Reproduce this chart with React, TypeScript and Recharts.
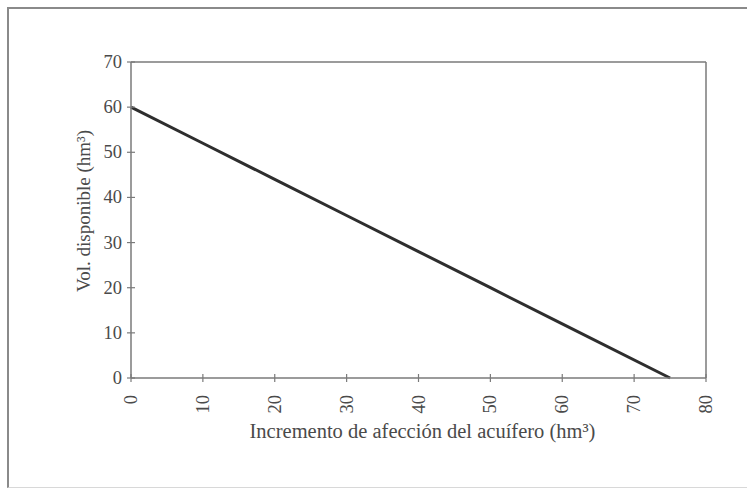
import { LineChart, Line, XAxis, YAxis, ReferenceLine } from 'recharts'

const afeccion = [0, 10, 20, 30, 40, 50, 60, 75]
const volDisponible = [60, 52, 44, 36, 28, 20, 12, 0]
const xTicks = [0, 10, 20, 30, 40, 50, 60, 70, 80]
const yTicks = [0, 10, 20, 30, 40, 50, 60, 70]

const data = afeccion.map((x, i) => ({ x, vol: volDisponible[i] }))

const FONT = '"Liberation Serif", "DejaVu Serif", serif'
const AXIS = '#7a7a7a'
const TEXT = '#4a4a4a'

function YTick(props: any) {
  const { x, y, payload } = props
  const ax = x + 8
  return (
    <g>
      <line x1={ax - 4} x2={ax + 4} y1={y} y2={y} stroke={AXIS} strokeWidth={1.2} />
      <text x={x - 1} y={y} dy={6} textAnchor="end" fill={TEXT} fontSize={18.5} fontFamily={FONT}>
        {payload.value}
      </text>
    </g>
  )
}

function XTick(props: any) {
  const { x, y, payload } = props
  const ay = y - 6
  return (
    <g>
      <line x1={x} x2={x} y1={ay - 4} y2={ay + 4} stroke={AXIS} strokeWidth={1.2} />
      <text
        x={x}
        y={ay + 17}
        dy={6}
        textAnchor="end"
        fill={TEXT}
        fontSize={18.5}
        fontFamily={FONT}
        transform={`rotate(-90 ${x} ${ay + 17})`}
      >
        {payload.value}
      </text>
    </g>
  )
}

export default function App() {
  return (
    <div style={{ position: 'fixed', left: 0, top: 0, width: 747, height: 491, background: '#fff' }}>
      <div
        style={{
          position: 'absolute',
          left: 7,
          top: 7,
          width: 760,
          height: 481,
          borderTop: '2px solid #8a8a8a',
          borderLeft: '2px solid #8a8a8a',
          borderBottom: '1px solid #d8d8d8',
          boxSizing: 'border-box',
        }}
      />
      <div style={{ position: 'absolute', left: 0, top: 0 }}>
        <LineChart width={747} height={491} data={data} margin={{ top: 62, right: 41, left: 71, bottom: 53 }}>
          <XAxis
            dataKey="x"
            type="number"
            domain={[0, 80]}
            ticks={xTicks}
            interval={0}
            height={60}
            stroke={AXIS}
            strokeWidth={1.5}
            tickLine={false}
            tickSize={0}
            tickMargin={6}
            tick={<XTick />}
            label={{
              value: 'Incremento de afección del acuífero (hm³)',
              position: 'insideBottom',
              offset: 0,
              dx: 4,
              fill: TEXT,
              fontSize: 20.5,
              fontFamily: FONT,
            }}
          />
          <YAxis
            type="number"
            domain={[0, 70]}
            ticks={yTicks}
            interval={0}
            width={60}
            stroke={AXIS}
            strokeWidth={1.5}
            tickLine={false}
            tickSize={0}
            tickMargin={8}
            tick={<YTick />}
            label={{
              value: 'Vol. disponible (hm³)',
              angle: -90,
              position: 'insideLeft',
              offset: 12,
              dy: 72,
              fill: TEXT,
              fontSize: 19,
              fontFamily: FONT,
            }}
          />
          <ReferenceLine y={70} stroke={AXIS} strokeWidth={1.5} />
          <ReferenceLine x={80} stroke={AXIS} strokeWidth={1.5} />
          <Line
            dataKey="vol"
            type="linear"
            stroke="#2e2e2e"
            strokeWidth={3}
            dot={false}
            isAnimationActive={false}
          />
        </LineChart>
      </div>
    </div>
  )
}
